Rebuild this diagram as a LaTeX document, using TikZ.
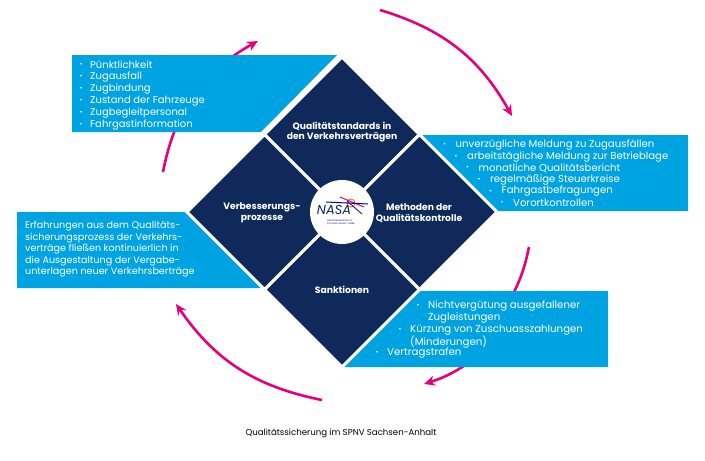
\documentclass[tikz,border=0pt]{standalone}
\usepackage{fontspec}
\setmainfont{Poppins}
\usetikzlibrary{arrows.meta}
\definecolor{navy}{HTML}{0F2A5A}
\definecolor{sky}{HTML}{00A3E2}
\definecolor{mag}{HTML}{E5007D}
\begin{document}
\begin{tikzpicture}[x=1pt,y=-1pt,
  arr/.style={mag,line width=2.6pt,-{Stealth[length=11pt,width=10pt]}},
  box/.style={fill=sky},
  quad/.style={fill=navy,draw=white,line width=3pt,line join=miter},
  lt/.style={font=\fontsize{10}{10}\selectfont,text=white,anchor=west,inner sep=0pt},
  lr/.style={lt,font=\fontsize{10.1}{10}\selectfont},
  ls/.style={lt,font=\fontsize{10.2}{10}\selectfont},
  bl/.style={font=\fontsize{7}{7}\selectfont,text=white,inner sep=0pt},
  qt/.style={font=\bfseries\fontsize{9.2}{10.5}\selectfont,text=white,align=center}]
\useasboundingbox (0,0) rectangle (705,461);
% arrows (under boxes)
\coordinate (a1s) at (163,172); \coordinate (a1e) at (258,41);
\coordinate (a2s) at (380,10); \coordinate (a2e) at (512,116);
\coordinate (a3s) at (529,247); \coordinate (a3e) at (510,300);
\coordinate (a4s) at (470,362); \coordinate (a4e) at (424,384);
\coordinate (a5s) at (322,400); \coordinate (a5e) at (176,304);
\draw[arr] (a1s) to[bend left=25] (a1e);
\draw[arr] (a2s) to[bend left=22] (a2e);
\draw[mag,line width=2.6pt] (a3s) to[bend left=8] (a3e);
\draw[arr] (a4s) to[bend left=8] (a4e);
\draw[arr] (a5s) to[bend left=22] (a5e);
% boxes
\fill[box] (72,55) -- (337,55) -- (261,132) -- (72,132) -- cycle;
\fill[box] (420,135) -- (688,135) -- (688,211) -- (496,211) -- cycle;
\fill[box] (420,291) -- (608,291) -- (608,367) -- (344,367) -- cycle;
\fill[box] (17,212) -- (185,212) -- (261,288) -- (17,288) -- cycle;
% quadrants
\coordinate (c) at (342,212);
\draw[quad] (342,57) -- (419.5,134.5) -- (342,212) -- (264.5,134.5) -- cycle;
\draw[quad] (497,212) -- (419.5,289.5) -- (342,212) -- (419.5,134.5) -- cycle;
\draw[quad] (342,367) -- (264.5,289.5) -- (342,212) -- (419.5,289.5) -- cycle;
\draw[quad] (187,212) -- (264.5,134.5) -- (342,212) -- (264.5,289.5) -- cycle;
\node[qt] (q1) at (342,132) {Qualitätstandards in\\den Verkehrsverträgen};
\node[qt] (q2) at (419,213) {Methoden der\\Qualitätskontrolle};
\node[qt] (q3) at (342,290) {Sanktionen};
\node[qt] (q4) at (262,213) {Verbesserungs-\\prozesse};
% logo
\node[circle,fill=white,minimum size=64pt,inner sep=0pt] (logo) at (c) {};
\draw[orange,line width=1pt] (351,203) circle (4);
\draw[mag,line width=1pt] (340,197) -- (364,207);
\draw[blue!70!black,line width=1pt] (326,202) -- (368,204);
\draw[blue!70!black,line width=0.8pt] (347,201) -- (362,214);
\node[font=\itshape\fontsize{13}{13}\selectfont,text=navy,inner sep=0pt] (nasa) at (334,210) {NASA};
\node[font=\fontsize{2.3}{2.6}\selectfont,text=navy,align=left,inner sep=0pt] (sub) at (341,222) {NAHVERKEHRSSERVICE\\SACHSEN-ANHALT GMBH};
% top-left list
\foreach \t [count=\i] in {Pünktlichkeit,Zugausfall,Zugbindung,Zustand der Fahrzeuge,Zugbegleitpersonal,Fahrgastinformation}{
  \node[bl] (tb\i) at (81,53+12*\i) {•};
  \node[lt] (tl\i) at (90,53+12*\i) {\t};}
% right list
\foreach \t [count=\i] in {unverzügliche Meldung zu Zugausfällen,arbeitstägliche Meldung zur Betrieblage,monatliche Qualitätsbericht,regelmäßige Steuerkreise,Fahrgastbefragungen,Vorortkontrollen}{
  \node[bl] (rb\i) at (433+11.5*\i,133.5+11.6*\i) {•};
  \node[lr] (rl\i) at (444+11.5*\i,133.5+11.6*\i) {\t};}
% bottom-right list
\node[bl] (sb1) at (418,306) {•};
\node[ls] (sl1) at (428,306) {Nichtvergütung ausgefallener};
\node[ls] (sl1b) at (428,318) {Zugleistungen};
\node[bl] (sb2) at (400,330) {•};
\node[ls] (sl2) at (410,330) {Kürzung von Zuschuasszahlungen};
\node[ls] (sl2b) at (410,342) {(Minderungen)};
\node[bl] (sb3) at (377,353) {•};
\node[ls] (sl3) at (387,353) {Vertragstrafen};
% left text
\node[lt,align=left,font=\fontsize{9.6}{11.6}\selectfont,anchor=north west] (lefttext) at (25,221)
 {Erfahrungen aus dem Qualitäts-\\sicherungsprozess der Verkehrs-\\verträge fließen kontinuierlich in\\die Ausgestaltung der Vergabe-\\unterlagen neuer Verkehrsberträge};
% caption
\node[font=\fontsize{8.6}{9}\selectfont,inner sep=0pt] (cap) at (341,433) {Qualitätssicherung im SPNV Sachsen-Anhalt};
\end{tikzpicture}
\end{document}
